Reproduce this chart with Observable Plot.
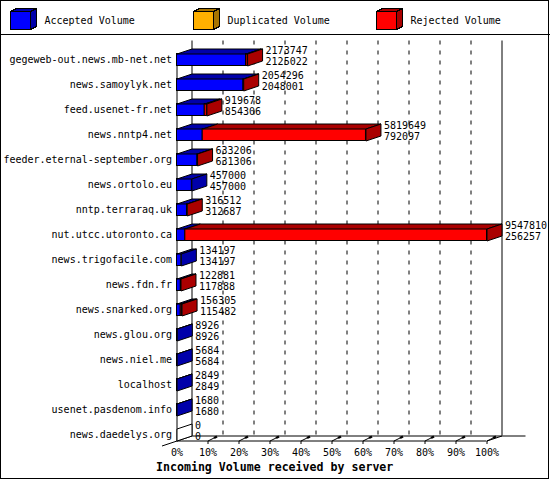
<!DOCTYPE html>
<html>
<head>
<meta charset="utf-8">
<script src="https://cdn.jsdelivr.net/npm/d3@7"></script>
<script src="https://cdn.jsdelivr.net/npm/@observablehq/plot@0.6"></script>
<style>
  html, body { margin: 0; padding: 0; background: #fff; }
  #wrap { position: relative; width: 550px; height: 480px; background: #fff; overflow: hidden;
          font-family: "DejaVu Sans Mono", "Liberation Mono", monospace; }
  #frame { position: absolute; left: 0; top: 0; width: 549px; height: 479px; box-sizing: border-box;
           border: 1px solid #000; pointer-events: none; z-index: 5; }
  #legend { position: absolute; left: 0; top: 0; width: 550px; height: 35px; box-sizing: border-box;
            border-bottom: 1px solid #000; }
  .item { position: absolute; top: 0; height: 34px; }
  .item svg { position: absolute; left: 0; top: 7px; }
  .item span { position: absolute; top: 14px; line-height: 14px; font-size: 10px; white-space: pre; color: #000; }
  #chart { position: absolute; left: 0; top: 35px; }
  #caption { position: absolute; left: 156px; top: 459px; line-height: 16px; font-size: 11.6px;
             font-weight: bold; white-space: pre; color: #000; }
</style>
</head>
<body>
<div id="wrap">
  <div id="legend"></div>
  <div id="chart"></div>
  <div id="caption"></div>
  <div id="frame"></div>
</div>
<script>
// ---- data ----
const servers = [
  "gegeweb-out.news.mb-net.net", "news.samoylyk.net", "feed.usenet-fr.net", "news.nntp4.net",
  "feeder.eternal-september.org", "news.ortolo.eu", "nntp.terraraq.uk", "nut.utcc.utoronto.ca",
  "news.trigofacile.com", "news.fdn.fr", "news.snarked.org", "news.glou.org",
  "news.niel.me", "localhost", "usenet.pasdenom.info", "news.daedelys.org"
];
const totalVolume = [
  2173747, 2054296, 919678, 5819649, 633206, 457000, 316512, 9547810,
  134197, 122881, 156305, 8926, 5684, 2849, 1680, 0
];
const acceptedVolume = [
  2125022, 2048001, 854306, 792097, 631306, 457000, 312687, 256257,
  134197, 117888, 115482, 8926, 5684, 2849, 1680, 0
];
const xTicks = [0, 10, 20, 30, 40, 50, 60, 70, 80, 90, 100];
const seriesNames = ["Accepted Volume", "Duplicated Volume", "Rejected Volume"];
const frontColors = ["#0000ff", "#ffb000", "#ff0000"];
const darkColors = ["#0000aa", "#a87400", "#aa0000"];
const captionText = "Incoming Volume received by server";

// ---- legend (HTML) ----
const legend = document.getElementById("legend");
const legendX = [10, 193, 376];
seriesNames.forEach((name, k) => {
  const it = document.createElement("div");
  it.className = "item";
  it.style.left = legendX[k] + "px";
  it.innerHTML =
    `<svg width="30" height="26" shape-rendering="crispEdges">
       <polygon points="0.5,4.5 6.5,1.5 26.5,1.5 20.5,4.5" fill="${darkColors[k]}" stroke="#000"/>
       <polygon points="20.5,4.5 26.5,1.5 26.5,19.5 20.5,22.5" fill="${darkColors[k]}" stroke="#000"/>
       <rect x="0.5" y="4.5" width="20" height="18" fill="${frontColors[k]}" stroke="#000"/>
     </svg><span style="left:34.5px">${name}</span>`;
  legend.appendChild(it);
});
document.getElementById("caption").textContent = captionText;

// ---- geometry (pixels) ----
const W = 550, H = 424, ML = 176.5, MR = 63.5, MT = 10.5, MB = 18.5;
const ROW = 25, DEPTH_X = 15, DEPTH_Y = -5, HALF = 6;
const pxX = 100 / (W - ML - MR);      // percent per pixel
const pxY = 1 / ROW;                  // rows per pixel
const dX = DEPTH_X * pxX, dY = DEPTH_Y * pxY, h = HALF * pxY;
const yFloor = servers.length - 1 + h;
const yTop = yFloor - (H - MT - MB) / ROW;

const maxTotal = d3.max(totalVolume);
const pct = v => v / maxTotal * 100;

// ---- 3D bar pieces built from the data ----
const fronts = [], tops = [], sides = [];
servers.forEach((name, i) => {
  const acc = acceptedVolume[i], tot = totalVolume[i];
  const segs = [];
  if (acc > 0) segs.push({a: 0, b: pct(acc), k: 0});
  if (tot - acc > 0) segs.push({a: pct(acc), b: pct(tot), k: 2});
  const yt = i - h, yb = i + h;
  segs.forEach((s, j) => {
    fronts.push({x1: s.a, x2: s.b, y1: yt, y2: yb, k: s.k});
    const id = `t${i}_${j}`;
    [[s.a, yt], [s.a + dX, yt + dY], [s.b + dX, yt + dY], [s.b, yt]]
      .forEach(([x, y]) => tops.push({id, x, y, k: s.k}));
  });
  const last = segs.length ? segs[segs.length - 1] : null;
  const xe = last ? last.b : 0, k = last ? last.k : -1;
  [[xe, yt], [xe + dX, yt + dY], [xe + dX, yb + dY], [xe, yb]]
    .forEach(([x, y]) => sides.push({id: `s${i}`, x, y, k}));
});

const rows = servers.map((name, i) => ({i, name, total: totalVolume[i], acc: acceptedVolume[i]}));

const poly = (data, fill) => Plot.line(data, {
  x: "x", y: "y", z: "id", curve: "linear-closed",
  fill, stroke: "#000", strokeWidth: 1, strokeLinejoin: "miter", strokeLinecap: "butt"
});

const marks = [
  // back wall: dashed gridlines and solid edges
  Plot.ruleX(xTicks.slice(1, -1), {x: d => d, y1: yTop, y2: yFloor, dx: DEPTH_X, dy: DEPTH_Y,
    stroke: "#000", strokeDasharray: "4,6"}),
  Plot.ruleX([xTicks[0], xTicks[xTicks.length - 1]], {x: d => d, y1: yTop, y2: yFloor,
    dx: DEPTH_X, dy: DEPTH_Y, stroke: "#000"}),
  // back floor line
  Plot.ruleY([yFloor], {y: d => d, x1: 0, x2: 100 + 24 * pxX, dx: DEPTH_X, dy: DEPTH_Y, stroke: "#000"}),
  // front floor axis and left axis
  Plot.ruleY([yFloor], {y: d => d, x1: 0, x2: 100, stroke: "#000"}),
  Plot.ruleX([0], {x: d => d, y1: -h, y2: yFloor, stroke: "#000"}),
  // floor side edges
  Plot.link([0], {x1: d => d - dX, y1: yFloor - dY, x2: d => d + dX, y2: yFloor + dY, stroke: "#000"}),
  Plot.link([100], {x1: d => d, y1: yFloor, x2: d => d + dX, y2: yFloor + dY, stroke: "#000"}),
  // x ticks
  Plot.link(xTicks.slice(1), {x1: d => d, x2: d => d, y1: yFloor, y2: yFloor + 3 * pxY, stroke: "#000"}),
  Plot.link(xTicks.slice(1), {x1: d => d, y1: yFloor, x2: d => d + 6 * pxX, y2: yFloor - 3 * pxY, stroke: "#000"}),
  Plot.link(xTicks.slice(1), {x1: d => d + 6 * pxX, y1: yFloor - 3 * pxY, x2: d => d + 9 * pxX,
    y2: yFloor - 4.5 * pxY, stroke: "#000", strokeWidth: 2.5}),
  // bars
  ...[0, 2].flatMap(k => [
    Plot.rect(fronts.filter(d => d.k === k), {x1: "x1", x2: "x2", y1: "y1", y2: "y2",
      fill: frontColors[k], stroke: "#000", strokeWidth: 1}),
    poly(tops.filter(d => d.k === k), darkColors[k])
  ]),
  poly(sides.filter(d => d.k === 0), darkColors[0]),
  poly(sides.filter(d => d.k === 2), darkColors[2]),
  poly(sides.filter(d => d.k === -1), "#fff"),
  // category labels
  Plot.text(rows, {x: 0, y: "i", text: "name", dx: -5, textAnchor: "end"}),
  // value labels
  Plot.text(rows, {x: d => pct(d.total), y: "i", text: d => String(d.total), dx: DEPTH_X + 3, dy: -9.5, textAnchor: "start"}),
  Plot.text(rows, {x: d => pct(d.total), y: "i", text: d => String(d.acc), dx: DEPTH_X + 3, dy: 1.5, textAnchor: "start"}),
  // x tick labels
  Plot.text(xTicks, {x: d => d, y: yFloor, text: d => d + "%", dy: 11.5})
];

const svg = Plot.plot({
  width: W, height: H,
  marginLeft: ML, marginRight: MR, marginTop: MT, marginBottom: MB,
  x: {domain: [0, 100], range: [ML, W - MR], axis: null},
  y: {domain: [yTop, yFloor], range: [MT, H - MB], axis: null},
  style: {fontFamily: "'DejaVu Sans Mono', 'Liberation Mono', monospace", fontSize: "10px",
          background: "transparent", overflow: "visible", color: "#000"},
  marks
});
document.getElementById("chart").appendChild(svg);
</script>
</body>
</html>
